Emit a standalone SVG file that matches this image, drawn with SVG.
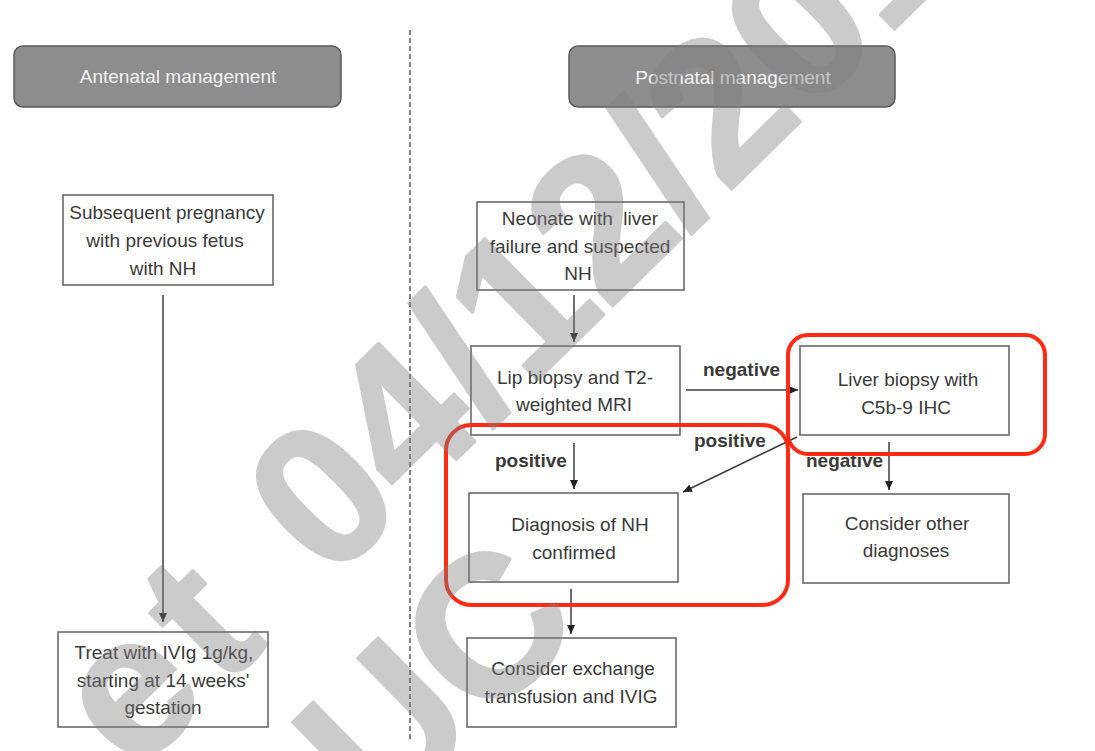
<svg xmlns="http://www.w3.org/2000/svg" width="1095" height="751" viewBox="0 0 1095 751">
  <style>
    .hdr { fill: #8d8d8d; stroke: #5a5a5a; stroke-width: 1.5; }
    .hdr-t { font-family: "Liberation Sans", Arial, sans-serif; font-size: 19px; fill: #f2f2f2; text-anchor: middle; }
    .box { fill: #ffffff; stroke: #6a6a6a; stroke-width: 1.6; }
    .t { font-family: "Liberation Sans", Arial, sans-serif; font-size: 19px; fill: #3a3a3a; text-anchor: middle; }
    .lbl { font-family: "Liberation Sans", Arial, sans-serif; font-size: 19px; font-weight: bold; fill: #3a3a3a; }
    .edge { fill: none; stroke: #3c3c3c; stroke-width: 1.5; }
    .divider { fill: none; stroke: #555; stroke-width: 1.5; stroke-dasharray: 5 3; }
    .hl { fill: none; stroke: #ff2a14; stroke-width: 4; }
    .wm { font-family: "Liberation Sans", Arial, sans-serif; font-weight: bold; font-size: 200px; fill: #808080; stroke: #808080; stroke-width: 3; stroke-linejoin: round; }
  </style>
  <defs>
    <marker id="arrow" markerWidth="10" markerHeight="10" refX="9" refY="5" orient="auto" markerUnits="userSpaceOnUse">
      <path d="M0,1 L9,5 L0,9 Z" fill="#222"/>
    </marker>
  </defs>

  <rect width="1095" height="751" fill="#ffffff"/>

  <!-- column divider -->
  <line class="divider" x1="410" y1="30" x2="410" y2="742"/>

  <!-- section headers -->
  <g id="hdr-antenatal">
    <rect class="hdr" x="14" y="46" width="327" height="61" rx="9"/>
    <text class="hdr-t" x="178" y="83">Antenatal management</text>
  </g>
  <g id="hdr-postnatal">
    <rect class="hdr" x="569" y="46" width="326" height="61" rx="9"/>
    <text class="hdr-t" x="733" y="84">Postnatal management</text>
  </g>

  <!-- antenatal branch -->
  <g id="n-subsequent">
    <rect class="box" x="63" y="195" width="210" height="90"/>
    <text class="t" x="167" y="219">Subsequent pregnancy</text>
    <text class="t" x="165" y="247">with previous fetus</text>
    <text class="t" x="163" y="275">with NH</text>
  </g>
  <g id="n-treat">
    <rect class="box" x="58" y="632" width="210" height="95"/>
    <text class="t" x="164" y="659">Treat with IVIg 1g/kg,</text>
    <text class="t" x="163" y="687">starting at 14 weeks'</text>
    <text class="t" x="163" y="714">gestation</text>
  </g>

  <!-- postnatal branch -->
  <g id="n-neonate">
    <rect class="box" x="477" y="202" width="207" height="88"/>
    <text class="t" x="580" y="225" xml:space="preserve">Neonate with  liver</text>
    <text class="t" x="580" y="253">failure and suspected</text>
    <text class="t" x="578" y="280">NH</text>
  </g>
  <g id="n-lip">
    <rect class="box" x="471" y="346" width="209" height="89"/>
    <text class="t" x="575" y="384">Lip biopsy and T2-</text>
    <text class="t" x="574" y="411">weighted MRI</text>
  </g>
  <g id="n-liver">
    <rect class="box" x="800" y="346" width="209" height="89"/>
    <text class="t" x="908" y="386">Liver biopsy with</text>
    <text class="t" x="906" y="414">C5b-9 IHC</text>
  </g>
  <g id="n-diagnosis">
    <rect class="box" x="469" y="493" width="209" height="89"/>
    <text class="t" x="580" y="531">Diagnosis of NH</text>
    <text class="t" x="574" y="559">confirmed</text>
  </g>
  <g id="n-other">
    <rect class="box" x="803" y="494" width="206" height="89"/>
    <text class="t" x="907" y="530">Consider other</text>
    <text class="t" x="906" y="557">diagnoses</text>
  </g>
  <g id="n-exchange">
    <rect class="box" x="467" y="638" width="209" height="89"/>
    <text class="t" x="573" y="675">Consider exchange</text>
    <text class="t" x="571" y="703">transfusion and IVIG</text>
  </g>

  <!-- connectors -->
  <g id="connectors">
    <line class="edge" x1="163" y1="295" x2="163" y2="622" marker-end="url(#arrow)"/>
    <line class="edge" x1="574" y1="295" x2="574" y2="342" marker-end="url(#arrow)"/>
    <line class="edge" x1="686" y1="390" x2="798" y2="390" marker-end="url(#arrow)"/>
    <line class="edge" x1="574" y1="443" x2="574" y2="489" marker-end="url(#arrow)"/>
    <line class="edge" x1="797" y1="437" x2="683" y2="492" marker-end="url(#arrow)"/>
    <line class="edge" x1="889" y1="442" x2="889" y2="490" marker-end="url(#arrow)"/>
    <line class="edge" x1="571" y1="589" x2="571" y2="634" marker-end="url(#arrow)"/>
    <text class="lbl" x="703" y="376">negative</text>
    <text class="lbl" x="495" y="467">positive</text>
    <text class="lbl" x="694" y="447">positive</text>
    <text class="lbl" x="806" y="467">negative</text>
  </g>

  <!-- highlight outlines -->
  <g id="highlights">
    <rect class="hl" x="788" y="335" width="257" height="119" rx="20"/>
    <rect class="hl" x="446" y="425" width="342" height="180" rx="25"/>
  </g>

  <!-- overlay stamp, composited once so glyph fill and outline do not stack -->
  <g id="watermark" opacity="0.4" transform="translate(164,747) rotate(-44.5)">
    <text class="wm" x="160" y="0" text-anchor="end" letter-spacing="12">et</text>
    <text class="wm" x="233" y="0">04/12/201</text>
    <text class="wm" x="386" y="210" text-anchor="end">PUC</text>
  </g>
</svg>
